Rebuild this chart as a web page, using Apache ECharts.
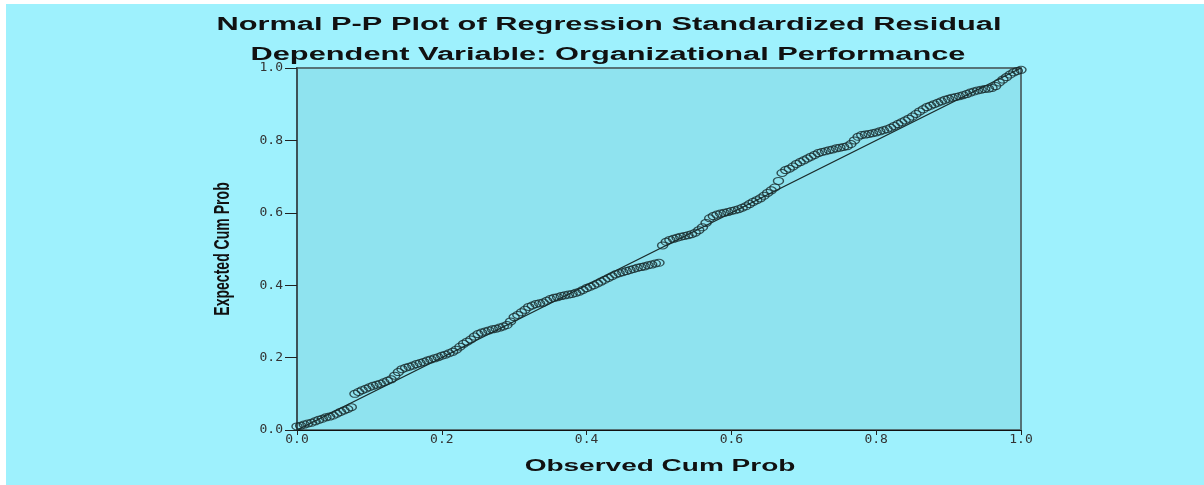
<!DOCTYPE html>
<html>
<head>
<meta charset="utf-8">
<script src="https://cdn.jsdelivr.net/npm/echarts@6/dist/echarts.min.js"></script>
<style>
html, body { margin: 0; padding: 0; background: #ffffff; }
#chart { position: absolute; left: 6px; top: 4px; width: 1198px; height: 481px; }
</style>
</head>
<body>
<div id="chart"></div>
<script>
// observed cumulative probabilities (x) and expected cumulative probabilities (y)
var observed = [
    0.000, 0.005, 0.010, 0.015, 0.020, 0.025, 0.030, 0.035, 0.040, 0.045,
    0.050, 0.055, 0.060, 0.065, 0.070, 0.075, 0.080, 0.085, 0.090, 0.095,
    0.100, 0.105, 0.110, 0.115, 0.120, 0.125, 0.130, 0.135, 0.140, 0.145,
    0.150, 0.155, 0.160, 0.165, 0.170, 0.175, 0.180, 0.185, 0.190, 0.195,
    0.200, 0.205, 0.210, 0.215, 0.220, 0.225, 0.230, 0.235, 0.240, 0.245,
    0.250, 0.255, 0.260, 0.265, 0.270, 0.275, 0.280, 0.285, 0.290, 0.295,
    0.300, 0.305, 0.310, 0.315, 0.320, 0.325, 0.330, 0.335, 0.340, 0.345,
    0.350, 0.355, 0.360, 0.365, 0.370, 0.375, 0.380, 0.385, 0.390, 0.395,
    0.400, 0.405, 0.410, 0.415, 0.420, 0.425, 0.430, 0.435, 0.440, 0.445,
    0.450, 0.455, 0.460, 0.465, 0.470, 0.475, 0.480, 0.485, 0.490, 0.495,
    0.500, 0.505, 0.510, 0.515, 0.520, 0.525, 0.530, 0.535, 0.540, 0.545,
    0.550, 0.555, 0.560, 0.565, 0.570, 0.575, 0.580, 0.585, 0.590, 0.595,
    0.600, 0.605, 0.610, 0.615, 0.620, 0.625, 0.630, 0.635, 0.640, 0.645,
    0.650, 0.655, 0.660, 0.665, 0.670, 0.675, 0.680, 0.685, 0.690, 0.695,
    0.700, 0.705, 0.710, 0.715, 0.720, 0.725, 0.730, 0.735, 0.740, 0.745,
    0.750, 0.755, 0.760, 0.765, 0.770, 0.775, 0.780, 0.785, 0.790, 0.795,
    0.800, 0.805, 0.810, 0.815, 0.820, 0.825, 0.830, 0.835, 0.840, 0.845,
    0.850, 0.855, 0.860, 0.865, 0.870, 0.875, 0.880, 0.885, 0.890, 0.895,
    0.900, 0.905, 0.910, 0.915, 0.920, 0.925, 0.930, 0.935, 0.940, 0.945,
    0.950, 0.955, 0.960, 0.965, 0.970, 0.975, 0.980, 0.985, 0.990, 0.995,
    1.000
];
var expected = [
    0.010, 0.012, 0.015, 0.018, 0.020, 0.024, 0.028, 0.031, 0.035, 0.037,
    0.040, 0.045, 0.050, 0.054, 0.058, 0.063, 0.100, 0.105, 0.110, 0.114,
    0.118, 0.122, 0.125, 0.128, 0.132, 0.136, 0.140, 0.150, 0.160, 0.168,
    0.172, 0.175, 0.178, 0.182, 0.185, 0.188, 0.192, 0.195, 0.198, 0.201,
    0.205, 0.208, 0.212, 0.216, 0.222, 0.230, 0.238, 0.244, 0.250, 0.258,
    0.265, 0.269, 0.272, 0.275, 0.278, 0.280, 0.283, 0.286, 0.290, 0.300,
    0.312, 0.318, 0.325, 0.332, 0.340, 0.344, 0.348, 0.350, 0.352, 0.357,
    0.362, 0.365, 0.367, 0.370, 0.372, 0.374, 0.376, 0.379, 0.382, 0.387,
    0.392, 0.396, 0.400, 0.405, 0.410, 0.415, 0.420, 0.425, 0.430, 0.433,
    0.436, 0.439, 0.442, 0.445, 0.448, 0.450, 0.452, 0.455, 0.457, 0.460,
    0.462, 0.510, 0.520, 0.525, 0.528, 0.531, 0.534, 0.536, 0.538, 0.541,
    0.545, 0.552, 0.560, 0.572, 0.585, 0.591, 0.595, 0.598, 0.600, 0.602,
    0.605, 0.607, 0.610, 0.614, 0.618, 0.624, 0.630, 0.635, 0.640, 0.647,
    0.655, 0.662, 0.670, 0.688, 0.710, 0.718, 0.722, 0.728, 0.735, 0.740,
    0.745, 0.750, 0.755, 0.760, 0.765, 0.768, 0.770, 0.773, 0.775, 0.778,
    0.780, 0.782, 0.784, 0.790, 0.800, 0.810, 0.815, 0.816, 0.818, 0.820,
    0.822, 0.825, 0.828, 0.831, 0.835, 0.840, 0.845, 0.850, 0.855, 0.860,
    0.866, 0.873, 0.880, 0.886, 0.892, 0.896, 0.900, 0.904, 0.908, 0.912,
    0.915, 0.918, 0.920, 0.922, 0.925, 0.928, 0.932, 0.935, 0.938, 0.940,
    0.942, 0.943, 0.945, 0.950, 0.960, 0.968, 0.975, 0.982, 0.988, 0.992,
    0.995
];
var refLine = [[0, 0], [1, 1]];

var points = [];
for (var i = 0; i < observed.length; i++) {
    points.push([observed[i], expected[i]]);
}

var boldFont = 'bold 18px "Liberation Sans", Arial, sans-serif';

var chart = echarts.init(document.getElementById('chart'));
var option = {
    backgroundColor: '#9ef1fd',
    animation: false,
    // the original picture is stretched sideways, so the texts are scaled with scaleX
    graphic: [{
        type: 'text',
        x: 603, y: 21,
        scaleX: 1.71,
        style: { text: 'Normal P-P Plot of Regression Standardized Residual', font: boldFont,
            fill: '#111', align: 'center', verticalAlign: 'middle' }
    }, {
        type: 'text',
        x: 602, y: 51,
        scaleX: 1.71,
        style: { text: 'Dependent Variable: Organizational Performance', font: boldFont,
            fill: '#111', align: 'center', verticalAlign: 'middle' }
    }, {
        type: 'text',
        x: 654, y: 463,
        scaleX: 1.75,
        style: { text: 'Observed Cum Prob', font: 'bold 16px "Liberation Sans", Arial, sans-serif',
            fill: '#111', align: 'center', verticalAlign: 'middle' }
    }, {
        type: 'text',
        x: 217, y: 245,
        rotation: Math.PI / 2,
        scaleX: 1.08,
        scaleY: 1.7,
        style: { text: 'Expected Cum Prob', font: 'bold 13px "Liberation Sans", Arial, sans-serif',
            fill: '#111', align: 'center', verticalAlign: 'middle' }
    }],
    grid: {
        left: 291,
        right: 183,
        top: 64,
        bottom: 55,
        show: true,
        backgroundColor: '#8fe3ef',
        borderColor: '#557377',
        borderWidth: 2
    },
    xAxis: {
        type: 'value',
        min: 0,
        max: 1,
        interval: 0.2,
        axisLine: { lineStyle: { color: '#111', width: 1 } },
        axisTick: { inside: false, length: 5, lineStyle: { color: '#222' } },
        axisLabel: { fontFamily: '"DejaVu Sans Mono", monospace', fontSize: 13, color: '#333', margin: 3,
            formatter: function (v) { return v.toFixed(1); } },
        splitLine: { show: false }
    },
    yAxis: {
        type: 'value',
        min: 0,
        max: 1,
        interval: 0.2,
        axisLine: { lineStyle: { color: '#3c5358', width: 2 } },
        axisTick: { inside: false, length: 12, lineStyle: { color: '#222' } },
        axisLabel: { fontFamily: '"DejaVu Sans Mono", monospace', fontSize: 13, color: '#333', margin: 14,
            formatter: function (v) { return v.toFixed(1); } },
        splitLine: { show: false }
    },
    series: [{
        type: 'line',
        data: refLine,
        symbol: 'none',
        lineStyle: { color: '#1a2a2a', width: 1.3 },
        z: 3
    }, {
        type: 'scatter',
        data: points,
        symbol: 'circle',
        symbolSize: [10, 7],
        itemStyle: { color: 'rgba(0,0,0,0)', borderColor: '#16292b', borderWidth: 1.2 },
        z: 2
    }]
};
chart.setOption(option);
</script>
</body>
</html>
